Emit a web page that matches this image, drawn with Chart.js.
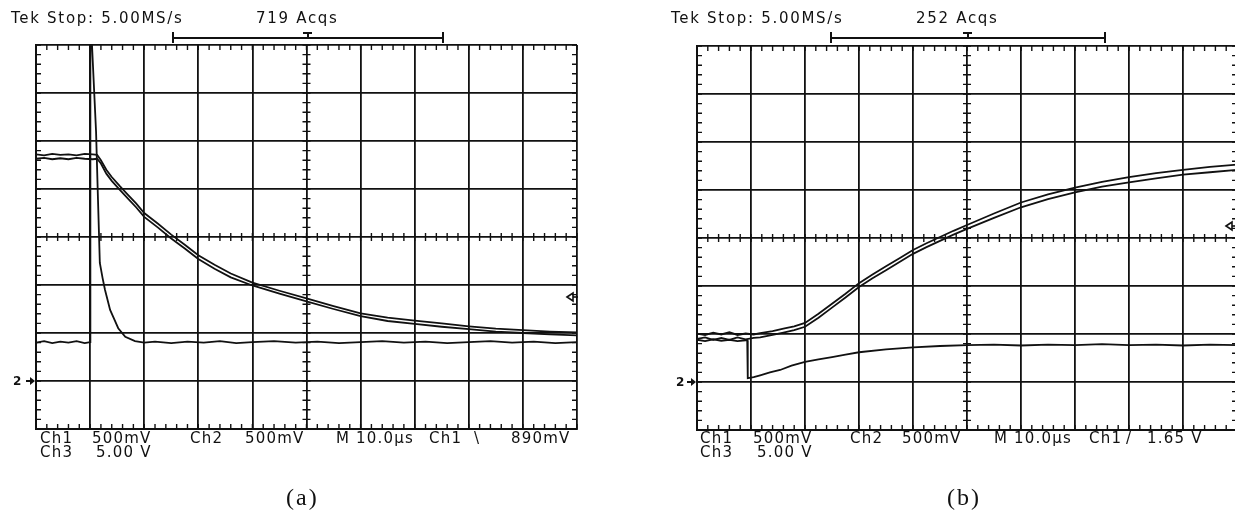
<!DOCTYPE html>
<html><head><meta charset="utf-8">
<script src="https://cdn.jsdelivr.net/npm/chart.js@4.4.1/dist/chart.umd.min.js"></script>
<style>
html,body{margin:0;padding:0;background:#fff;overflow:hidden;width:1235px;height:513px;}
#wrap{position:relative;width:1235px;height:513px;overflow:hidden;}
canvas{position:absolute;top:0;}
.t{position:absolute;font-family:"DejaVu Sans",sans-serif;font-size:15px;line-height:15px;color:#111;letter-spacing:1.2px;white-space:pre;}
.tt{letter-spacing:1.7px;}
.g{position:absolute;font-family:"DejaVu Sans",sans-serif;font-size:12px;font-weight:bold;line-height:12px;color:#111;}
.cap{position:absolute;font-family:"Liberation Serif","Times New Roman",serif;font-size:24px;line-height:24px;color:#111;letter-spacing:2px;}
.bl{position:absolute;background:#111;}
</style>
</head><body><div id="wrap">
<canvas id="ca" width="620" height="513" style="left:0"></canvas>
<canvas id="cb" width="620" height="513" style="left:620px"></canvas>

<div class="t tt" style="left:11px;top:11px">Tek Stop: 5.00MS/s</div>
<div class="t tt" style="left:256px;top:11px">719 Acqs</div>
<div class="t tt" style="left:671px;top:11px">Tek Stop: 5.00MS/s</div>
<div class="t tt" style="left:916px;top:11px">252 Acqs</div>

<!-- record brackets -->
<div class="bl" style="left:172px;top:37px;width:272px;height:1.5px"></div>
<div class="bl" style="left:172px;top:32px;width:2px;height:11px"></div>
<div class="bl" style="left:442px;top:32px;width:2px;height:11px"></div>
<div class="bl" style="left:303px;top:32px;width:9px;height:1.5px"></div>
<div class="bl" style="left:307px;top:32px;width:1.5px;height:6px"></div>
<div class="bl" style="left:830px;top:37px;width:276px;height:1.5px"></div>
<div class="bl" style="left:830px;top:32px;width:2px;height:11px"></div>
<div class="bl" style="left:1104px;top:32px;width:2px;height:11px"></div>
<div class="bl" style="left:963px;top:32px;width:9px;height:1.5px"></div>
<div class="bl" style="left:967px;top:32px;width:1.5px;height:6px"></div>

<div class="g" style="left:13px;top:375px">2</div>
<div class="g" style="left:676px;top:376px">2</div>

<div class="t" style="left:40px;top:431px">Ch1</div>
<div class="t" style="left:92px;top:431px">500mV</div>
<div class="t" style="left:190px;top:431px">Ch2</div>
<div class="t" style="left:245px;top:431px">500mV</div>
<div class="t" style="left:336px;top:431px">M 10.0µs</div>
<div class="t" style="left:429px;top:431px">Ch1</div>
<div class="t" style="left:474px;top:431px">\</div>
<div class="t" style="left:511px;top:431px">890mV</div>
<div class="t" style="left:40px;top:445px">Ch3</div>
<div class="t" style="left:96px;top:445px">5.00 V</div>

<div class="t" style="left:700px;top:431px">Ch1</div>
<div class="t" style="left:753px;top:431px">500mV</div>
<div class="t" style="left:850px;top:431px">Ch2</div>
<div class="t" style="left:902px;top:431px">500mV</div>
<div class="t" style="left:994px;top:431px">M 10.0µs</div>
<div class="t" style="left:1089px;top:431px">Ch1</div>
<div class="t" style="left:1126px;top:431px">/</div>
<div class="t" style="left:1147px;top:431px">1.65 V</div>
<div class="t" style="left:700px;top:445px">Ch3</div>
<div class="t" style="left:757px;top:445px">5.00 V</div>

<div class="cap" style="left:286px;top:485px">(a)</div>
<div class="cap" style="left:947px;top:485px">(b)</div>
</div>
<script>
// ---- Data (time in µs, 10 µs/div; amplitude in screen divisions, 0 = centre line) ----
// Panel (a)
const tA1 = [0,1.5,3,4.5,6,7.5,9,10.5,11.3,12,13,14,15.5,17,18.5,20,22.5,25,27.5,30,33,36,40,45,50,55,60,65,70,75,80,85,90,95,100];
const ch1A = [1.72,1.70,1.73,1.71,1.72,1.70,1.73,1.72,1.71,1.60,1.40,1.25,1.06,0.88,0.70,0.50,0.28,0.05,-0.16,-0.38,-0.58,-0.76,-0.95,-1.12,-1.28,-1.44,-1.59,-1.68,-1.74,-1.80,-1.86,-1.91,-1.94,-1.97,-1.99];
const ch2A = [1.63,1.65,1.62,1.64,1.62,1.65,1.63,1.62,1.63,1.53,1.32,1.17,0.98,0.80,0.62,0.42,0.20,-0.03,-0.24,-0.46,-0.66,-0.84,-1.01,-1.18,-1.34,-1.50,-1.65,-1.75,-1.81,-1.87,-1.92,-1.97,-2.00,-2.03,-2.05];
const tA3 = [0,1.5,3,4.5,6,7.5,9,10,10.05,10.2,10.35,11.1,11.46,11.8,12.3,12.75,13.7,14.5,15.2,16.5,18.3,20,22,25,28,31,34,37,40,44,48,52,56,60,64,68,72,76,80,84,88,92,96,100];
const ch3A = [-2.20,-2.17,-2.21,-2.18,-2.20,-2.17,-2.21,-2.19,5.0,5.2,4.0,2.2,0.77,-0.54,-0.85,-1.10,-1.52,-1.72,-1.90,-2.08,-2.17,-2.20,-2.18,-2.21,-2.18,-2.20,-2.17,-2.21,-2.19,-2.17,-2.20,-2.18,-2.21,-2.19,-2.17,-2.20,-2.18,-2.21,-2.19,-2.17,-2.20,-2.18,-2.21,-2.19];
// Panel (b)
const tB1 = [0,1.5,3,4.5,6,7.5,9,10.5,11.7,14,16,18,20,22.5,25,27.5,30,32.5,35,37.5,40,42.5,45,47.5,50,55,60,65,70,75,80,85,90,95,100];
const ch1B = [-1.99,-2.02,-1.97,-2.01,-1.96,-2.02,-1.99,-2.01,-1.98,-1.94,-1.89,-1.84,-1.77,-1.58,-1.37,-1.16,-0.94,-0.76,-0.59,-0.42,-0.25,-0.11,0.02,0.15,0.27,0.51,0.74,0.91,1.05,1.17,1.27,1.35,1.42,1.48,1.53];
const ch2B = [-2.10,-2.07,-2.12,-2.08,-2.12,-2.07,-2.11,-2.08,-2.07,-2.02,-1.97,-1.92,-1.85,-1.66,-1.45,-1.24,-1.02,-0.84,-0.67,-0.50,-0.33,-0.19,-0.06,0.07,0.19,0.42,0.64,0.81,0.95,1.07,1.16,1.24,1.32,1.37,1.42];
const tB3 = [0,1.5,3,4.5,6,7.5,9,9.3,9.4,10.5,11.7,13.5,15.4,17.5,20,22.5,25,27.5,30,35,40,45,50,55,60,65,70,75,80,85,90,95,100];
const ch3B = [-2.12,-2.15,-2.11,-2.14,-2.12,-2.15,-2.13,-2.13,-2.92,-2.90,-2.86,-2.80,-2.75,-2.66,-2.58,-2.53,-2.48,-2.43,-2.38,-2.32,-2.28,-2.25,-2.23,-2.22,-2.24,-2.22,-2.23,-2.21,-2.23,-2.22,-2.24,-2.22,-2.23];
// Markers (divisions)
const groundA = -3, trigA = -1.25;
const groundB = -3, trigB = 0.25;

const INK = '#111';
const pts = (t, v) => t.map((x, i) => ({x, y: v[i]}));

const scopeDecor = {
  id: 'scopeDecor',
  beforeDatasetsDraw(chart, args, o) {
    const {ctx, chartArea: a, scales: {x, y}} = chart;
    ctx.save();
    ctx.strokeStyle = INK; ctx.lineWidth = 1.4;
    const cx = x.getPixelForValue(50), cy = y.getPixelForValue(0);
    ctx.beginPath();
    for (let i = 0; i <= 50; i++) {
      const px = x.getPixelForValue(i * 2);
      ctx.moveTo(px, a.top); ctx.lineTo(px, a.top + 5);
      ctx.moveTo(px, a.bottom); ctx.lineTo(px, a.bottom - 5);
      ctx.moveTo(px, cy - 4); ctx.lineTo(px, cy + 4);
    }
    for (let j = 0; j <= 40; j++) {
      const py = y.getPixelForValue(-4 + j * 0.2);
      ctx.moveTo(a.left, py); ctx.lineTo(a.left + 5, py);
      ctx.moveTo(a.right, py); ctx.lineTo(a.right - 5, py);
      ctx.moveTo(cx - 4, py); ctx.lineTo(cx + 4, py);
    }
    ctx.stroke();
    // ground marker arrow
    const gy = y.getPixelForValue(o.ground);
    ctx.fillStyle = INK;
    ctx.beginPath(); ctx.moveTo(a.left - 1, gy); ctx.lineTo(a.left - 6, gy - 4); ctx.lineTo(a.left - 6, gy + 4); ctx.closePath(); ctx.fill();
    ctx.lineWidth = 2;
    ctx.beginPath(); ctx.moveTo(a.left - 6, gy); ctx.lineTo(a.left - 10, gy); ctx.stroke();
    // trigger level arrow
    const ty = y.getPixelForValue(o.trig), tx = a.right - o.trigOff;
    ctx.lineWidth = 1.6;
    ctx.beginPath(); ctx.moveTo(tx, ty); ctx.lineTo(tx + 6, ty - 4); ctx.lineTo(tx + 6, ty + 4); ctx.closePath(); ctx.stroke();
    ctx.beginPath(); ctx.moveTo(tx + 6, ty); ctx.lineTo(tx + 11, ty); ctx.stroke();
    ctx.restore();
  }
};

function makeChart(id, sets, pad, deco) {
  const axis = (min, max, step) => ({
    type: 'linear', min, max,
    ticks: {display: false, stepSize: step},
    grid: {color: INK, lineWidth: 1.8, drawTicks: false},
    border: {color: INK, width: 2}
  });
  return new Chart(document.getElementById(id), {
    type: 'line',
    data: {datasets: sets.map(d => ({
      data: d, borderColor: INK, borderWidth: 1.8, pointRadius: 0, tension: 0, fill: false
    }))},
    options: {
      responsive: false, animation: false, devicePixelRatio: 1,
      layout: {padding: pad},
      plugins: {legend: {display: false}, tooltip: {enabled: false}, scopeDecor: deco},
      scales: {x: axis(0, 100, 10), y: axis(-4, 4, 1)}
    },
    plugins: [scopeDecor]
  });
}

makeChart('ca', [pts(tA1, ch1A), pts(tA1, ch2A), pts(tA3, ch3A)],
  {left: 36, top: 45, right: 43, bottom: 84}, {ground: groundA, trig: trigA, trigOff: 10});
makeChart('cb', [pts(tB1, ch1B), pts(tB1, ch2B), pts(tB3, ch3B)],
  {left: 77, top: 46, right: 3, bottom: 83}, {ground: groundB, trig: trigB, trigOff: 11});
</script>
</body></html>
